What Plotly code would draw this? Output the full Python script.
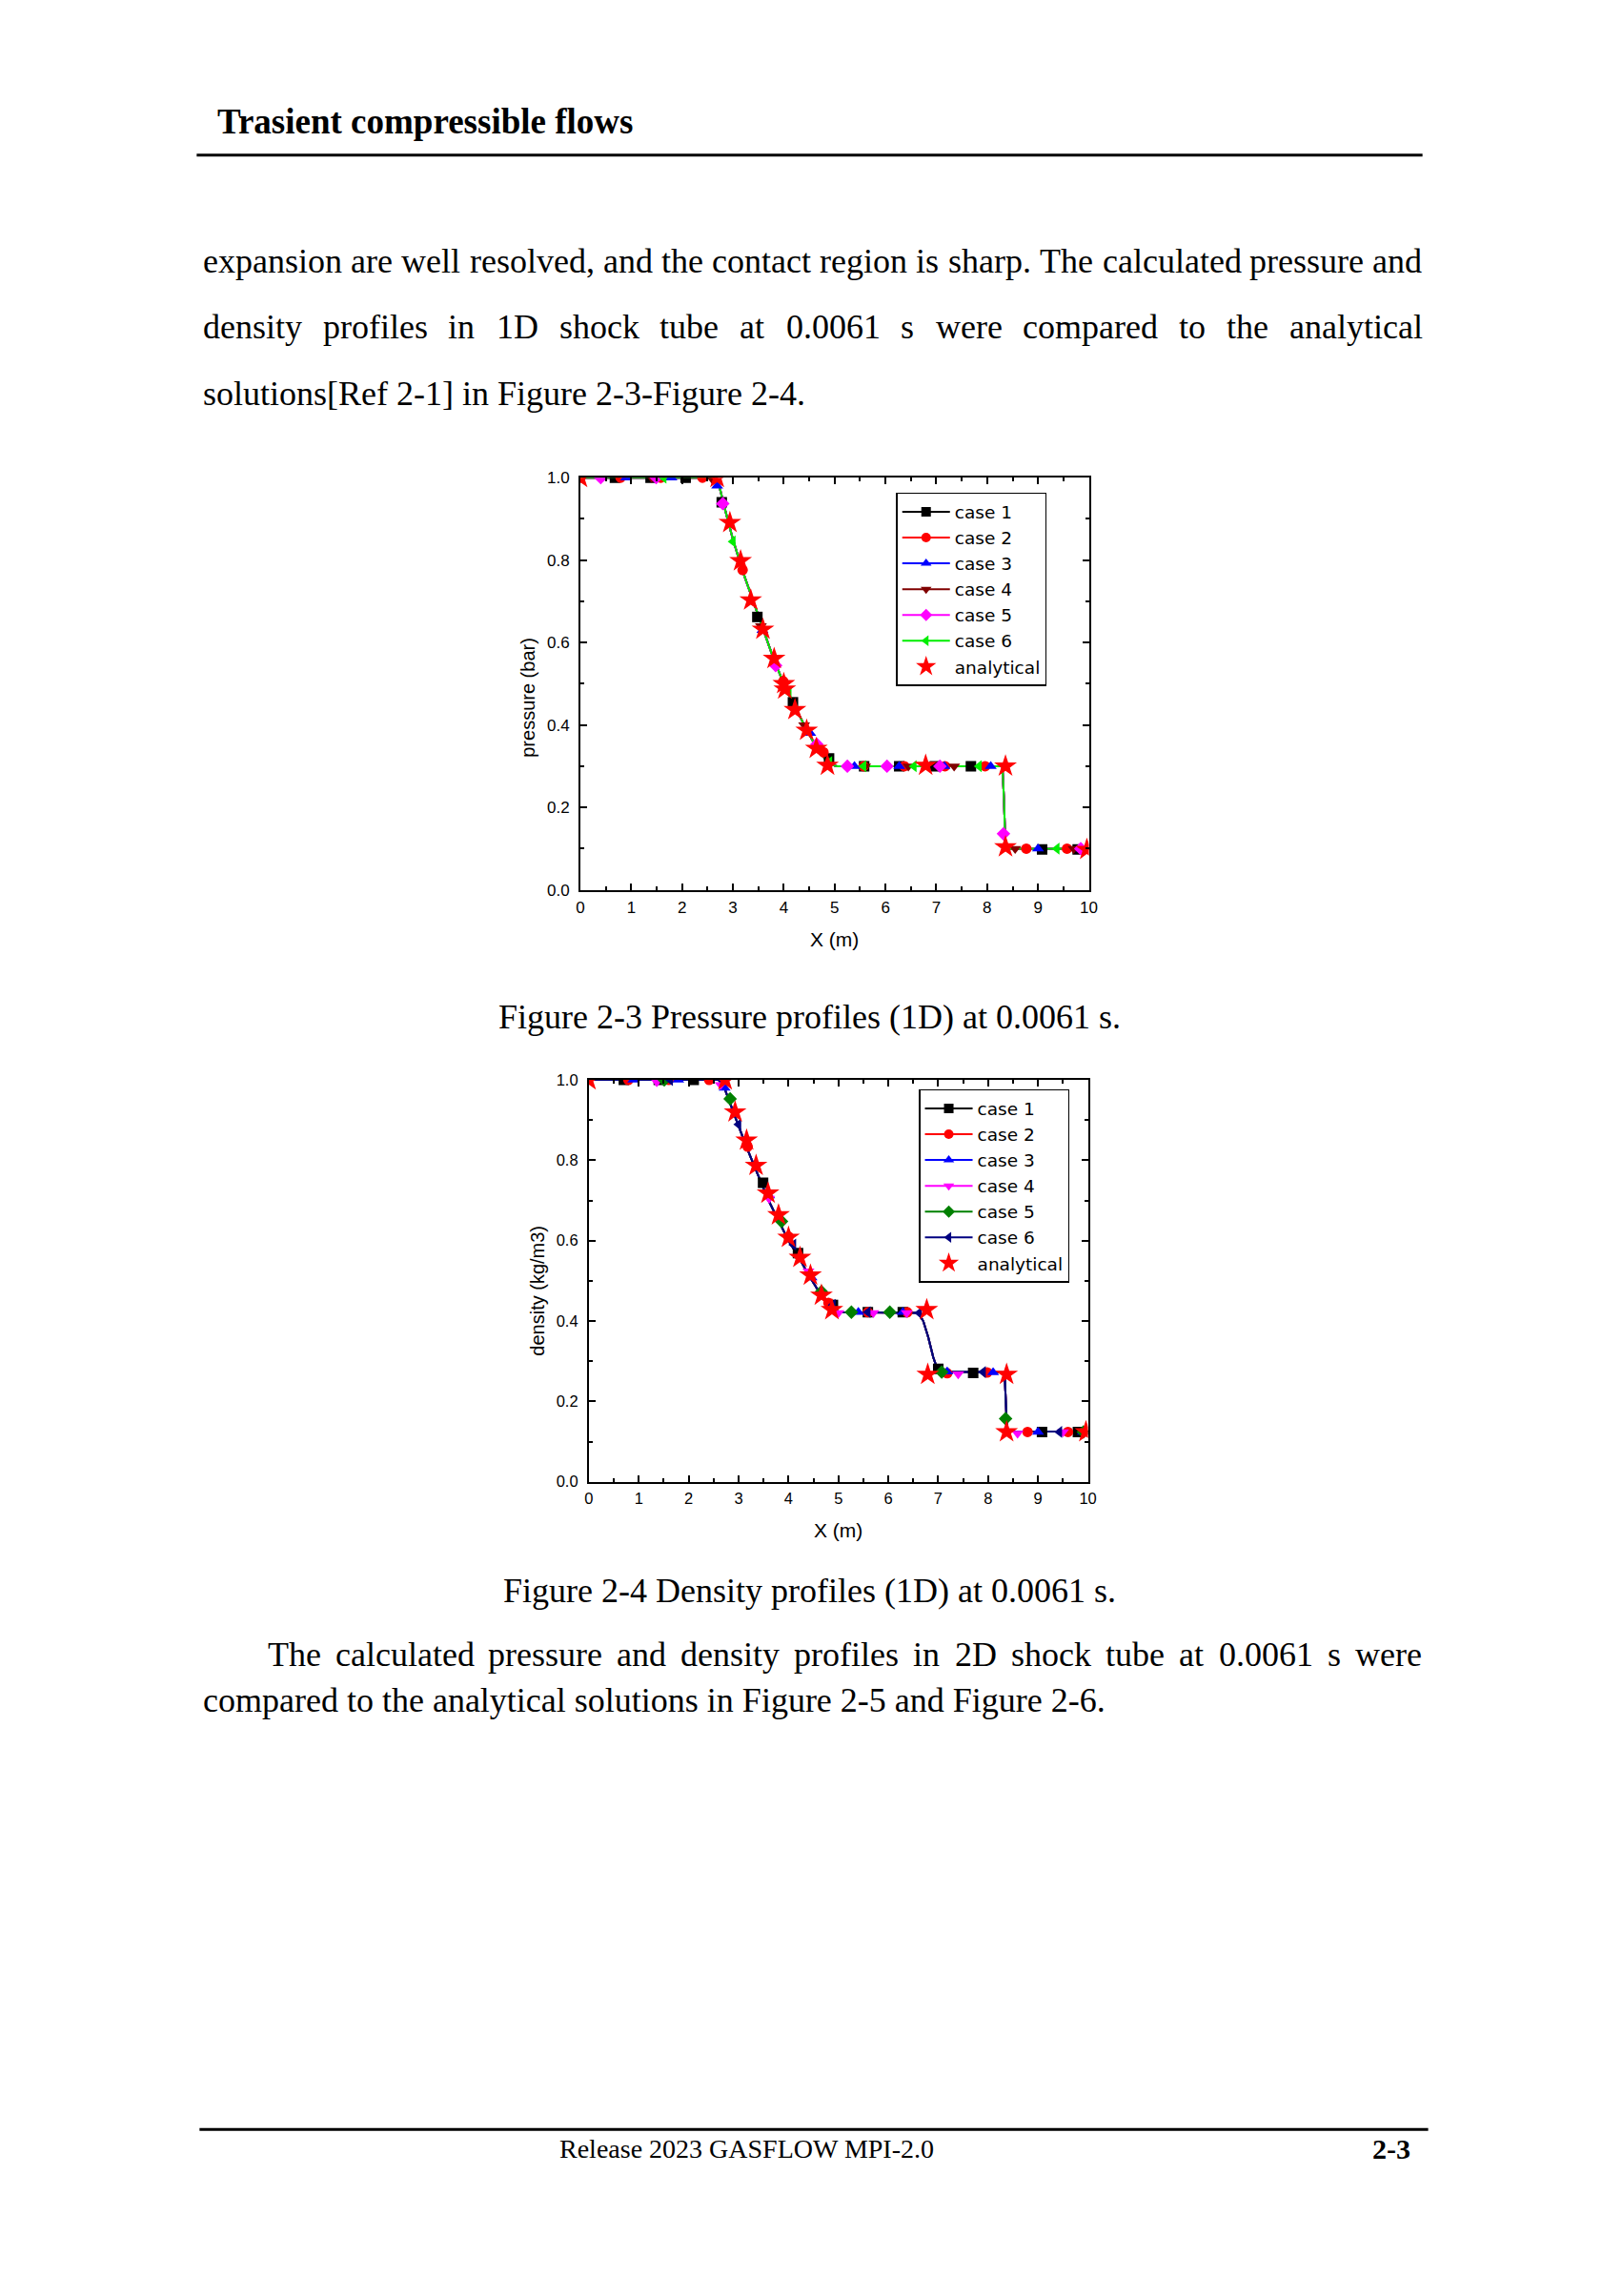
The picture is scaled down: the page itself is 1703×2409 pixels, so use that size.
import plotly.graph_objects as go

# page is 1703 x 2409; the browser adds an 8px body margin around the figure
PAGE_W, PAGE_H = 1703, 2409
MARGIN = 8
W, H = PAGE_W - 2 * MARGIN, PAGE_H - 2 * MARGIN


def px(x):
    return (x - MARGIN) / W


def py(y):
    return 1 - (y - MARGIN) / H


# ---------------- data: pressure (Figure 2-3) ----------------
CASE_NAMES = ["case 1", "case 2", "case 3", "case 4", "case 5", "case 6"]

P_PROFILE_X = [0, 2.6, 2.7, 2.75, 2.85, 3.0, 3.2, 3.4, 3.6, 3.8, 4.0, 4.2, 4.4, 4.6, 4.8,
               4.95, 5.05, 8.30, 8.33, 8.36, 10]
P_PROFILE_Y = [1.0, 1.0, 0.99, 0.97, 0.92, 0.85, 0.77, 0.70, 0.63, 0.56, 0.50, 0.45, 0.40,
               0.355, 0.32, 0.303, 0.30, 0.30, 0.22, 0.10, 0.10]

P_MARK_X = [
    [0.68, 1.38, 2.07, 2.78, 3.48, 4.18, 4.89, 5.58, 6.27, 6.97, 7.68, 9.08, 9.78],
    [0.0, 0.79, 1.58, 2.4, 3.19, 3.99, 4.78, 5.57, 6.37, 7.17, 7.96, 8.77, 9.57],
    [0.9, 1.79, 2.69, 3.58, 4.52, 5.39, 6.27, 7.16, 8.07, 9.0, 9.86],
    [1.4, 2.6, 3.55, 4.4, 5.6, 6.45, 7.35, 8.55, 9.7],
    [0.4, 1.49, 2.8, 3.84, 4.65, 5.25, 6.03, 7.07, 8.32, 9.84],
    [0.0, 1.64, 3.0, 4.1, 4.9, 5.57, 6.56, 7.84, 9.37],
]
P_MARK_Y = [
    [1.0, 1.0, 1.0, 0.94, 0.662, 0.455, 0.319, 0.30, 0.30, 0.30, 0.30, 0.098, 0.098],
    [1.0, 1.0, 1.0, 1.0, 0.776, 0.506, 0.334, 0.30, 0.30, 0.30, 0.30, 0.10, 0.10],
    [1.0, 1.0, 0.98, 0.63, 0.38, 0.30, 0.30, 0.30, 0.30, 0.10, 0.10],
    [1.0, 0.995, 0.64, 0.40, 0.30, 0.30, 0.30, 0.10, 0.10],
    [1.0, 1.0, 0.937, 0.544, 0.353, 0.30, 0.30, 0.30, 0.136, 0.10],
    [1.0, 1.0, 0.845, 0.479, 0.31, 0.30, 0.30, 0.30, 0.10],
]
P_ANALYTIC_X = [0.0, 2.69, 2.94, 3.15, 3.35, 3.59, 3.81, 4.0, 4.02, 4.22, 4.45, 4.64, 4.86,
                6.79, 8.36, 8.36, 9.96]
P_ANALYTIC_Y = [1.0, 1.0, 0.891, 0.798, 0.703, 0.632, 0.561, 0.50, 0.487, 0.437, 0.387,
                0.343, 0.302, 0.302, 0.30, 0.104, 0.098]

# ---------------- data: density (Figure 2-4) ----------------
D_PROFILE_X = [0, 2.6, 2.7, 2.8, 3.0, 3.2, 3.4, 3.6, 3.8, 4.0, 4.2, 4.4, 4.6, 4.8, 4.95,
               5.1, 6.6, 6.7, 6.8, 6.9, 6.97, 7.1, 8.33, 8.35, 8.38, 10]
D_PROFILE_Y = [1.0, 1.0, 0.985, 0.95, 0.885, 0.82, 0.76, 0.70, 0.65, 0.60, 0.56, 0.515,
               0.475, 0.44, 0.425, 0.422, 0.42, 0.40, 0.36, 0.31, 0.285, 0.274, 0.272,
               0.20, 0.125, 0.125]

D_MARK_X = [
    [0.7, 1.4, 2.1, 3.49, 4.19, 4.89, 5.59, 6.29, 7.0, 7.7, 9.08, 9.8],
    [0.79, 1.6, 2.41, 3.18, 4.0, 4.8, 5.59, 6.38, 7.18, 7.98, 8.79, 9.6],
    [0.89, 1.79, 2.72, 3.61, 4.46, 5.40, 6.29, 7.18, 8.1, 9.0, 9.9],
    [1.36, 2.64, 3.61, 4.40, 5.0, 5.7, 6.37, 7.4, 8.59, 9.5],
    [1.51, 2.83, 3.86, 4.66, 5.26, 6.03, 7.07, 8.35, 9.91],
    [1.63, 3.0, 4.1, 4.89, 5.59, 6.62, 7.9, 9.43],
]
D_MARK_Y = [
    [1.0, 1.0, 1.0, 0.744, 0.569, 0.44, 0.422, 0.422, 0.281, 0.271, 0.124, 0.124],
    [1.0, 1.0, 1.0, 0.834, 0.61, 0.445, 0.422, 0.422, 0.27, 0.272, 0.124, 0.124],
    [1.0, 1.0, 0.98, 0.712, 0.508, 0.422, 0.422, 0.274, 0.272, 0.124, 0.124],
    [0.995, 0.988, 0.705, 0.524, 0.42, 0.42, 0.42, 0.268, 0.12, 0.124],
    [1.0, 0.953, 0.648, 0.473, 0.422, 0.422, 0.273, 0.157, 0.124],
    [1.0, 0.889, 0.59, 0.44, 0.422, 0.42, 0.273, 0.124],
]
D_ANALYTIC_X = [0.0, 2.73, 2.93, 3.16, 3.35, 3.59, 3.80, 4.0, 4.23, 4.44, 4.66, 4.87,
                6.77, 6.79, 8.37, 8.37, 9.96]
D_ANALYTIC_Y = [1.0, 1.0, 0.92, 0.85, 0.787, 0.718, 0.664, 0.608, 0.558, 0.514, 0.464,
                0.428, 0.428, 0.267, 0.267, 0.124, 0.124]

# ---------------- styles ----------------
P_COLORS = ["#000000", "#ff0000", "#0000ff", "#800000", "#ff00ff", "#00ee00"]
D_COLORS = ["#000000", "#ff0000", "#0000ff", "#ff00ff", "#008000", "#000080"]
P_SYMBOLS = ["square", "circle", "triangle-up", "triangle-down", "diamond", "triangle-left"]
D_SYMBOLS = ["square", "circle", "triangle-up", "triangle-down", "diamond", "triangle-left"]

fig = go.Figure()


def add_chart(xref, yref, legend, prof_x, prof_y, mark_x, mark_y, an_x, an_y, colors, symbols):
    for i in range(6):
        fig.add_trace(go.Scatter(x=prof_x, y=prof_y, mode="lines", xaxis=xref, yaxis=yref,
                                 line=dict(color=colors[i], width=2), showlegend=False,
                                 hoverinfo="skip"))
    for i in range(6):
        fig.add_trace(go.Scatter(x=mark_x[i], y=mark_y[i], mode="markers", xaxis=xref, yaxis=yref,
                                 marker=dict(symbol=symbols[i], color=colors[i], size=11,
                                             line=dict(width=0)),
                                 showlegend=False))
    fig.add_trace(go.Scatter(x=an_x, y=an_y, mode="markers", xaxis=xref, yaxis=yref,
                             name="analytical", legend=legend, legendrank=7,
                             marker=dict(symbol="star", color="#ff0000", size=18,
                                         line=dict(width=0))))
    for i in range(6):
        fig.add_trace(go.Scatter(x=[None], y=[None], mode="lines+markers", xaxis=xref, yaxis=yref,
                                 name=CASE_NAMES[i], legend=legend, legendrank=i + 1,
                                 line=dict(color=colors[i], width=2),
                                 marker=dict(symbol=symbols[i], color=colors[i], size=10,
                                             line=dict(width=0))))


add_chart("x", "y", "legend", P_PROFILE_X, P_PROFILE_Y, P_MARK_X, P_MARK_Y,
          P_ANALYTIC_X, P_ANALYTIC_Y, P_COLORS, P_SYMBOLS)
add_chart("x2", "y2", "legend2", D_PROFILE_X, D_PROFILE_Y, D_MARK_X, D_MARK_Y,
          D_ANALYTIC_X, D_ANALYTIC_Y, D_COLORS, D_SYMBOLS)

SANS = "Liberation Sans, Arial, sans-serif"
WIDE_SANS = "DejaVu Sans, Verdana, sans-serif"
SERIF = "Liberation Serif, Times New Roman, serif"


def axis(domain, anchor, is_x, fsize):
    d = dict(domain=domain, anchor=anchor, showline=True, linecolor="black", linewidth=2,
             mirror="allticks", ticks="inside", ticklen=7, tickwidth=1.5, tickcolor="black",
             showgrid=False, zeroline=False,
             tickfont=dict(family=SANS, size=fsize, color="black"))
    if is_x:
        d.update(range=[0, 10], tick0=0, dtick=1, ticklabelstandoff=2,
                 minor=dict(ticks="inside", ticklen=4, tickwidth=1.5, tickcolor="black",
                            dtick=0.5, tick0=0, showgrid=False))
    else:
        d.update(range=[0, 1], tick0=0, dtick=0.2, tickformat=".1f", ticklabelstandoff=6,
                 minor=dict(ticks="inside", ticklen=4, tickwidth=1.5, tickcolor="black",
                            dtick=0.1, tick0=0, showgrid=False))
    return d


# plot areas in page pixels
C1 = (609, 1147, 496, 932)
C2 = (618, 1146, 1133, 1558)

fig.update_layout(
    width=W, height=H, margin=dict(l=0, r=0, t=0, b=0),
    paper_bgcolor="white", plot_bgcolor="white",
    xaxis=axis([px(C1[0]), px(C1[1])], "y", True, 17),
    yaxis=axis([py(C1[3]), py(C1[2])], "x", False, 17),
    xaxis2=axis([px(C2[0]), px(C2[1])], "y2", True, 16.5),
    yaxis2=axis([py(C2[3]), py(C2[2])], "x2", False, 16.5),
    legend=dict(x=px(943), y=py(512), xanchor="left", yanchor="top",
                bgcolor="white", bordercolor="black", borderwidth=1.5,
                font=dict(family=WIDE_SANS, size=18.5, color="black"), itemwidth=50,
                traceorder="normal"),
    legend2=dict(x=px(967), y=py(1143), xanchor="left", yanchor="top",
                 bgcolor="white", bordercolor="black", borderwidth=1.5,
                 font=dict(family=WIDE_SANS, size=18.5, color="black"), itemwidth=50,
                 traceorder="normal"),
    showlegend=True,
)

annotations = []


def text(x, y, s, size, family=SERIF, anchor="left", angle=0, bold=False):
    if bold:
        s = "<b>" + s + "</b>"
    annotations.append(dict(x=px(x), y=py(y), xref="paper", yref="paper", text=s,
                            showarrow=False, xanchor=anchor, yanchor="middle", textangle=angle,
                            font=dict(family=family, size=size, color="black")))


# axis titles
text(878, 984, "X (m)", 21, SANS, "center")
text(554, 728, "pressure (bar)", 20, SANS, "center", -90)
text(882, 1609, "X (m)", 21, SANS, "center")
text(564, 1356, "density (kg/m3)", 20, SANS, "center", -90)

# ---------------- page text ----------------
TW = {" ": 250, ",": 250, "-": 333, ".": 250, "[": 333, "]": 333, "(": 333, ")": 333}
for ch in "0123456789":
    TW[ch] = 500
TW.update(dict(A=722, B=667, C=667, D=722, E=611, F=556, G=722, H=722, I=333, J=389, K=722,
               L=611, M=889, N=722, O=722, P=556, Q=722, R=667, S=556, T=611, U=722, V=722,
               W=944, X=722, Y=722, Z=611,
               a=444, b=500, c=444, d=500, e=444, f=333, g=500, h=500, i=278, j=278, k=500,
               l=278, m=778, n=500, o=500, p=500, q=500, r=333, s=389, t=278, u=500, v=500,
               w=722, x=500, y=500, z=444))


def word_w(wd, size):
    return sum(TW.get(c, 500) for c in wd) * size / 1000.0


def justified(line, x0, x1, y, size):
    words = line.split(" ")
    total = sum(word_w(wd, size) for wd in words)
    gap = (x1 - x0 - total) / (len(words) - 1)
    x = x0
    for wd in words:
        text(x, y, wd, size)
        x += word_w(wd, size) + gap


BODY = 36
LEFT, RIGHT = 208, 1497
text(223, 119, "Trasient compressible flows", 37, bold=True)
justified("expansion are well resolved, and the contact region is sharp. The calculated pressure and",
          LEFT, RIGHT, 267, BODY)
justified("density profiles in 1D shock tube at 0.0061 s were compared to the analytical",
          LEFT, RIGHT, 337, BODY)
text(LEFT, 407, "solutions[Ref 2-1] in Figure 2-3-Figure 2-4.", BODY)
text(851.5, 1066, "Figure 2-3 Pressure profiles (1D) at 0.0061 s.", BODY, anchor="center")
text(851.5, 1673, "Figure 2-4 Density profiles (1D) at 0.0061 s.", BODY, anchor="center")
justified("The calculated pressure and density profiles in 2D shock tube at 0.0061 s were",
          276, RIGHT, 1741, BODY)
text(LEFT, 1789, "compared to the analytical solutions in Figure 2-5 and Figure 2-6.", BODY)
text(785, 2263, "Release 2023 GASFLOW MPI-2.0", 28, anchor="center")
text(1489, 2263, "2-3", 30, anchor="right", bold=True)

fig.update_layout(annotations=annotations)

# header / footer rules
fig.add_shape(type="line", xref="paper", yref="paper", x0=px(203), x1=px(1500), y0=py(155),
              y1=py(155), line=dict(color="black", width=3))
fig.add_shape(type="line", xref="paper", yref="paper", x0=px(206), x1=px(1506), y0=py(2243),
              y1=py(2243), line=dict(color="black", width=3))

fig.write_html("out.html", config={"displayModeBar": False})
